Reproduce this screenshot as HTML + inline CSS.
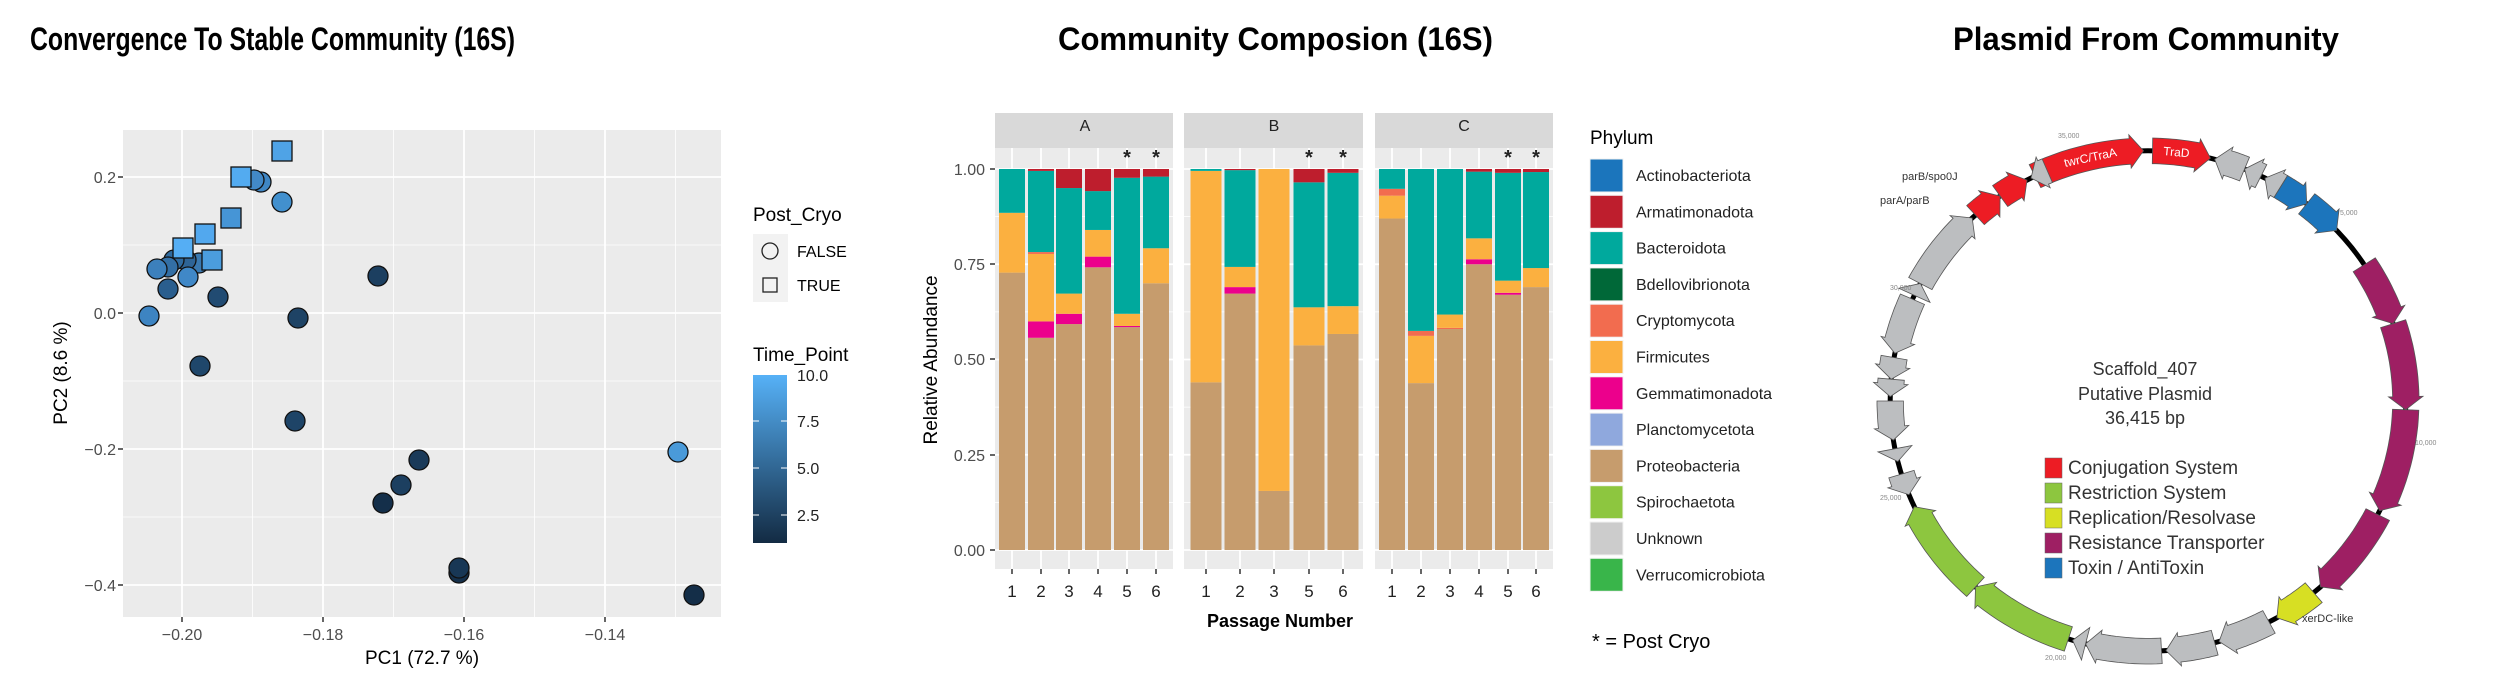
<!DOCTYPE html>
<html><head><meta charset="utf-8"><style>
html,body{margin:0;padding:0;background:#fff;}
svg{display:block;font-family:"Liberation Sans",sans-serif;}
</style></head><body>
<svg id="s" width="2500" height="695" viewBox="0 0 2500 695" xmlns="http://www.w3.org/2000/svg">
<rect width="2500" height="695" fill="#fff"/>
<!-- Titles -->
<text x="30" y="50" font-size="32" font-weight="bold" textLength="485" lengthAdjust="spacingAndGlyphs">Convergence To Stable Community (16S)</text>
<text x="1058" y="50" font-size="32" font-weight="bold" textLength="435" lengthAdjust="spacingAndGlyphs">Community Composion (16S)</text>
<text x="1953" y="50" font-size="32" font-weight="bold" textLength="386" lengthAdjust="spacingAndGlyphs">Plasmid From Community</text>

<!-- Panel 1 -->
<rect x="123" y="130" width="598" height="487" fill="#EBEBEB"/>
<g id="g1grid"></g>
<g id="pts"></g>
<g font-size="16" fill="#4D4D4D" text-anchor="end">
<text x="116" y="183">0.2</text><text x="116" y="319">0.0</text><text x="116" y="455">−0.2</text><text x="116" y="591">−0.4</text>
</g>
<g stroke="#333" stroke-width="1.5"><line x1="118" y1="177" x2="123" y2="177"/><line x1="118" y1="313" x2="123" y2="313"/><line x1="118" y1="449" x2="123" y2="449"/><line x1="118" y1="585" x2="123" y2="585"/>
<line x1="182" y1="617" x2="182" y2="622"/><line x1="323" y1="617" x2="323" y2="622"/><line x1="464" y1="617" x2="464" y2="622"/><line x1="605" y1="617" x2="605" y2="622"/></g>
<g font-size="16" fill="#4D4D4D" text-anchor="middle">
<text x="182" y="640">−0.20</text><text x="323" y="640">−0.18</text><text x="464" y="640">−0.16</text><text x="605" y="640">−0.14</text></g>
<text x="422" y="664" font-size="19" text-anchor="middle">PC1 (72.7 %)</text>
<text transform="translate(67,373) rotate(-90)" font-size="19" text-anchor="middle">PC2 (8.6 %)</text>
<text x="753" y="221" font-size="19">Post_Cryo</text>
<rect x="753" y="234" width="35" height="68" fill="#F2F2F2"/>
<circle cx="770" cy="251" r="8" fill="none" stroke="#222" stroke-width="1.3"/>
<rect x="763" y="278" width="14" height="14" fill="none" stroke="#222" stroke-width="1.3"/>
<text x="797" y="257" font-size="16">FALSE</text><text x="797" y="291" font-size="16">TRUE</text>
<text x="753" y="361" font-size="19">Time_Point</text>
<defs><linearGradient id="cb" x1="0" y1="1" x2="0" y2="0"><stop offset="0" stop-color="#132B43"/><stop offset="1" stop-color="#56B1F7"/></linearGradient></defs>
<rect x="753" y="375" width="34" height="168" fill="url(#cb)"/>
<g stroke="#fff" stroke-width="1"><line x1="753" y1="421" x2="759" y2="421"/><line x1="781" y1="421" x2="787" y2="421"/><line x1="753" y1="468" x2="759" y2="468"/><line x1="781" y1="468" x2="787" y2="468"/><line x1="753" y1="515" x2="759" y2="515"/><line x1="781" y1="515" x2="787" y2="515"/></g>
<g font-size="16" fill="#222"><text x="797" y="381">10.0</text><text x="797" y="427">7.5</text><text x="797" y="474">5.0</text><text x="797" y="521">2.5</text></g>

<!-- Panel 2 -->
<g id="p2"></g>
<g font-size="16" fill="#4D4D4D" text-anchor="end">
<text x="985" y="175">1.00</text><text x="985" y="270">0.75</text><text x="985" y="365">0.50</text><text x="985" y="461">0.25</text><text x="985" y="556">0.00</text></g>
<g stroke="#333" stroke-width="1.5"><line x1="990" y1="169" x2="995" y2="169"/><line x1="990" y1="264" x2="995" y2="264"/><line x1="990" y1="359" x2="995" y2="359"/><line x1="990" y1="455" x2="995" y2="455"/><line x1="990" y1="550" x2="995" y2="550"/></g>
<text transform="translate(937,360) rotate(-90)" font-size="19" text-anchor="middle">Relative Abundance</text>
<text x="1280" y="627" font-size="18" font-weight="bold" text-anchor="middle">Passage Number</text>
<g font-size="16" text-anchor="middle" fill="#222">
<text x="1085" y="131">A</text><text x="1274" y="131">B</text><text x="1464" y="131">C</text></g>
<g id="p2x" font-size="17" text-anchor="middle" fill="#222"></g>
<text x="1590" y="144" font-size="19">Phylum</text>
<g id="leg2" font-size="16" fill="#222"></g>
<text x="1592" y="648" font-size="20">* = Post Cryo</text>

<!-- Panel 3 -->
<g id="plas"></g>
<g font-size="18" fill="#333" text-anchor="middle">
<text x="2145" y="375">Scaffold_407</text><text x="2145" y="400">Putative Plasmid</text><text x="2145" y="424">36,415 bp</text></g>
<g font-size="19" fill="#333">
<rect x="2045" y="458" width="17" height="20" fill="#ED1C24" stroke="#666" stroke-width="0.5"/><text x="2068" y="474">Conjugation System</text>
<rect x="2045" y="483" width="17" height="20" fill="#8DC63F" stroke="#666" stroke-width="0.5"/><text x="2068" y="499">Restriction System</text>
<rect x="2045" y="508" width="17" height="20" fill="#D7DF23" stroke="#666" stroke-width="0.5"/><text x="2068" y="524">Replication/Resolvase</text>
<rect x="2045" y="533" width="17" height="20" fill="#9E1F63" stroke="#666" stroke-width="0.5"/><text x="2068" y="549">Resistance Transporter</text>
<rect x="2045" y="558" width="17" height="20" fill="#1C75BC" stroke="#666" stroke-width="0.5"/><text x="2068" y="574">Toxin / AntiToxin</text>
</g>
<g font-size="11" fill="#333">
<text x="1902" y="180">parB/spo0J</text><text x="1880" y="204">parA/parB</text>
<text x="2302" y="622">xerDC-like</text></g>
<g font-size="12" fill="#fff">
<text x="2065" y="167" transform="rotate(-12 2065 167)">twrC/TraA</text>
<text x="2163" y="155" transform="rotate(5 2163 155)">TraD</text>
<text x="2385" y="460" transform="rotate(-90 2385 460)">czcA-like</text></g>
<g font-size="7" fill="#888">
<text x="2058" y="138">35,000</text><text x="2340" y="215">5,000</text><text x="2415" y="445">10,000</text>
<text x="2045" y="660">20,000</text><text x="1880" y="500">25,000</text><text x="1890" y="290">30,000</text></g>
</svg>
<script>
var NS="http://www.w3.org/2000/svg";
function el(p,t,a){var e=document.createElementNS(NS,t);for(var k in a)e.setAttribute(k,a[k]);p.appendChild(e);return e;}
var g=document.getElementById('g1grid');
[111.5,252.5,393.5,534.5,675.5].forEach(function(x){if(x>123)el(g,'line',{x1:x,y1:130,x2:x,y2:617,stroke:'#fff','stroke-width':0.8});});
[245,381,517].forEach(function(y){el(g,'line',{x1:123,y1:y,x2:721,y2:y,stroke:'#fff','stroke-width':0.8});});
[182,323,464,605].forEach(function(x){el(g,'line',{x1:x,y1:130,x2:x,y2:617,stroke:'#fff','stroke-width':1.8});});
[177,313,449,585].forEach(function(y){el(g,'line',{x1:123,y1:y,x2:721,y2:y,stroke:'#fff','stroke-width':1.8});});
var P=document.getElementById('pts');
var pts=[
['c',199,263,'#3A79B0'],['c',186,260,'#2E6496'],['c',174,260,'#2F6A9E'],['c',168,267,'#336FA5'],['c',157,269,'#3C80BC'],
['c',188,277,'#4088C7'],['c',168,289,'#2A5E8E'],['c',218,297,'#214B72'],['c',149,316,'#3D84C2'],
['c',378,276,'#1C3F60'],['c',298,318,'#1E4365'],['c',200,366,'#1F476B'],['c',295,421,'#1E4467'],
['c',678,452,'#4A9AD9'],['c',419,460,'#1A3A59'],['c',401,485,'#1C3F60'],['c',383,503,'#142F4A'],
['c',459,573,'#15304B'],['c',459,568,'#183755'],['c',694,595,'#142E48'],
['c',261,182,'#3F86C4'],['c',254,180,'#4289C8'],['c',282,202,'#4290CE'],
['s',282,151,'#4FA3E6'],['s',241,177,'#53ABF0'],['s',231,218,'#4695D6'],['s',205,234,'#52A8EE'],['s',183,248,'#55AEF4'],['s',212,260,'#4B9DDE']];
pts.forEach(function(p){if(p[0]=='c')el(P,'circle',{cx:p[1],cy:p[2],r:10,fill:p[3],stroke:'#111','stroke-width':1.3});
else el(P,'rect',{x:p[1]-10,y:p[2]-10,width:20,height:20,fill:p[3],stroke:'#111','stroke-width':1.3});});
var C={pr:'#C69C6D',fi:'#FBB040',ba:'#00A99D',ar:'#BE1E2D',ge:'#EC008C',cr:'#F26C4F'};
var facets=[
{x0:995,x1:1173,labs:['1','2','3','4','5','6'],cx:[1012,1041,1069,1098,1127,1156],w:26,bars:[
[['pr',.728],['fi',.885],['ba',1]],
[['pr',.557],['ge',.6],['fi',.777],['cr',.782],['ba',.995],['ar',1]],
[['pr',.593],['ge',.62],['fi',.673],['ba',.95],['ar',1]],
[['pr',.742],['ge',.77],['fi',.84],['ba',.942],['ar',1]],
[['pr',.585],['ge',.588],['fi',.62],['ba',.977],['ar',1]],
[['pr',.70],['fi',.792],['ba',.98],['ar',1]]]},
{x0:1184,x1:1363,labs:['1','2','3','5','6'],cx:[1206,1240,1274,1309,1343],w:31,bars:[
[['pr',.44],['fi',.995],['ba',1]],
[['pr',.673],['ge',.69],['fi',.743],['ba',.997],['ar',1]],
[['pr',.155],['fi',1]],
[['pr',.537],['fi',.637],['ba',.965],['ar',1]],
[['pr',.567],['fi',.64],['ba',.99],['ar',1]]]},
{x0:1375,x1:1553,labs:['1','2','3','4','5','6'],cx:[1392,1421,1450,1479,1508,1536],w:26,bars:[
[['pr',.87],['fi',.93],['cr',.948],['ba',1]],
[['pr',.438],['fi',.562],['cr',.575],['ba',1]],
[['pr',.58],['cr',.583],['fi',.618],['ba',1]],
[['pr',.75],['ge',.763],['fi',.818],['ba',.993],['ar',1]],
[['pr',.67],['ge',.675],['fi',.707],['ba',.99],['ar',1]],
[['pr',.69],['fi',.74],['ba',.992],['ar',1]]]}];
var p2=document.getElementById('p2'),p2x=document.getElementById('p2x');
function Y(v){return 550-v*381;}
facets.forEach(function(f){
 el(p2,'rect',{x:f.x0,y:113,width:f.x1-f.x0,height:35,fill:'#D9D9D9'});
 el(p2,'rect',{x:f.x0,y:148,width:f.x1-f.x0,height:421,fill:'#EBEBEB'});
 [0.125,0.375,0.625,0.875].forEach(function(v){el(p2,'line',{x1:f.x0,x2:f.x1,y1:Y(v),y2:Y(v),stroke:'#fff','stroke-width':0.8});});
 [0,0.25,0.5,0.75,1].forEach(function(v){el(p2,'line',{x1:f.x0,x2:f.x1,y1:Y(v),y2:Y(v),stroke:'#fff','stroke-width':1.8});});
 f.cx.forEach(function(x){el(p2,'line',{x1:x,x2:x,y1:148,y2:569,stroke:'#fff','stroke-width':1.8});});
 f.bars.forEach(function(b,i){var prev=0;b.forEach(function(s){el(p2,'rect',{x:f.cx[i]-f.w/2,y:Y(s[1]),width:f.w,height:Y(prev)-Y(s[1]),fill:C[s[0]]});prev=s[1];});
  el(p2,'line',{x1:f.cx[i],x2:f.cx[i],y1:569,y2:574,stroke:'#333','stroke-width':1.5});
  var t=el(p2x,'text',{x:f.cx[i],y:597});t.textContent=f.labs[i];});
 [f.bars.length-2,f.bars.length-1].forEach(function(i){var t=el(p2x,'text',{x:f.cx[i],y:164,'font-size':20,'font-weight':'bold'});t.textContent='*';});
});
var L=[['Actinobacteriota','#1B75BC'],['Armatimonadota','#BE1E2D'],['Bacteroidota','#00A99D'],['Bdellovibrionota','#006838'],['Cryptomycota','#F26C4F'],['Firmicutes','#FBB040'],['Gemmatimonadota','#EC008C'],['Planctomycetota','#8FA8DD'],['Proteobacteria','#C69C6D'],['Spirochaetota','#8DC63F'],['Unknown','#CCCCCC'],['Verrucomicrobiota','#39B54A']];
var lg=document.getElementById('leg2');
L.forEach(function(l,i){var y=159+i*36.3;el(lg,'rect',{x:1590,y:y,width:33,height:33,fill:l[1],stroke:'#F2F2F2','stroke-width':1});var t=el(lg,'text',{x:1636,y:y+22});t.textContent=l[0];});
var pl=document.getElementById('plas'),cx=2148,cy=401,R=254;
function pt(a,r){a=a*Math.PI/180;return (cx+r*Math.sin(a)*1.015).toFixed(1)+','+(cy-r*Math.cos(a)*0.985).toFixed(1);}
el(pl,'ellipse',{cx:cx,cy:cy,rx:R*1.015,ry:R*0.985,fill:'none',stroke:'#000','stroke-width':5});
function gene(a1,a2,dir,col){var h=3,s,e,q=[],i,n=12;
 if(dir>0){s=a1;e=a2-h;}else{s=a1+h;e=a2;}
 var w=13,W=17;
 if(dir>0){for(i=0;i<=n;i++)q.push(pt(s+(e-s)*i/n,R+w));q.push(pt(e,R+W));q.push(pt(a2,R));q.push(pt(e,R-W));for(i=n;i>=0;i--)q.push(pt(s+(e-s)*i/n,R-w));}
 else{for(i=0;i<=n;i++)q.push(pt(s+(e-s)*i/n,R+w));for(i=n;i>=0;i--)q.push(pt(s+(e-s)*i/n,R-w));q.push(pt(s,R-W));q.push(pt(a1,R));q.push(pt(s,R+W));}
 el(pl,'polygon',{points:q.join(' '),fill:col,stroke:'#555','stroke-width':0.8});}
var RD='#ED1C24',GY='#BCBEC0',BL='#1C75BC',PU='#9E1F63',YE='#D7DF23',GR='#8DC63F';
[[-26,-1,1,RD],[1,14,1,RD],[15,22,-1,GY],[22,26,-1,GY],[27,31,-1,GY],[31,38,1,BL],[38,47,1,BL],
[57,72,1,PU],[72,92,1,PU],[92,116,1,PU],[117,138,1,PU],[140,150,1,YE],[152,164,1,GY],[165,176,1,GY],[177,194,1,GY],[194,197,1,GY],
[198,222,1,GR],[222,245,1,GR],[248,253,-1,GY],[256,259,-1,GY],[261,270,-1,GY],[271,275,-1,GY],[275,280,-1,GY],[281,294,-1,GY],[295,298,1,GY],[298,317,1,GY],
[318,325,1,RD],[325,332,1,RD],[333,337,-1,GY]].forEach(function(g){gene(g[0],g[1],g[2],g[3]);});
</script>
</body></html>
